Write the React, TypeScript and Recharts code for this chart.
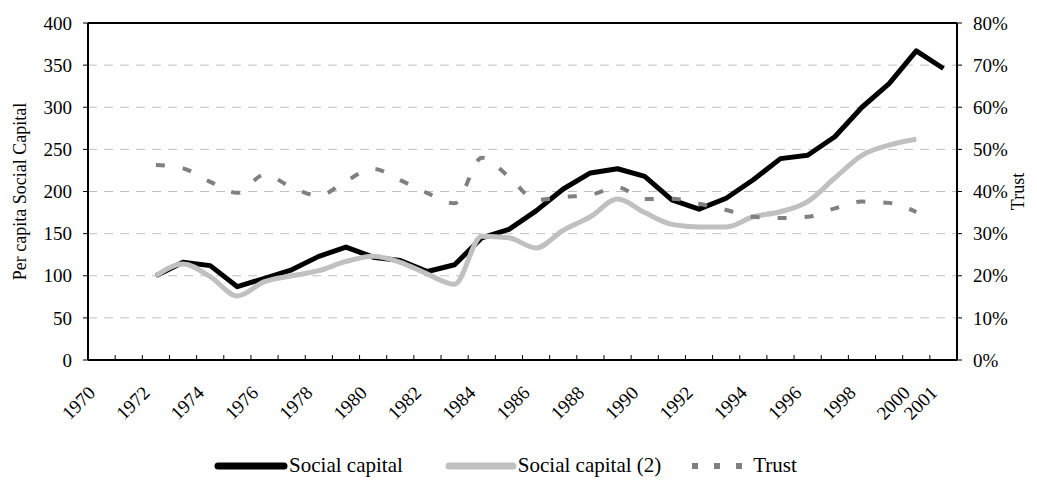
import {
  CartesianGrid,
  Legend,
  Line,
  LineChart,
  ReferenceLine,
  XAxis,
  YAxis,
} from "recharts";

const years = [
  1972, 1973, 1974, 1975, 1976, 1977, 1978, 1979, 1980, 1981, 1982, 1983, 1984,
  1985, 1986, 1987, 1988, 1989, 1990, 1991, 1992, 1993, 1994, 1995, 1996, 1997,
  1998, 1999, 2000, 2001,
];
const socialCapital = [
  100, 116, 112, 87, 97, 107, 123, 134, 122, 118, 105, 113, 145, 155, 177, 203,
  222, 227, 218, 190, 179, 192, 214, 239, 243, 265, 300, 328, 367, 346,
];
const socialCapital2 = [
  100, 114, 99, 76, 93, 100, 106, 117, 123, 116, 102, 90, 147, 145, 133, 154,
  170, 191, 175, 161, 158, 158, 170, 176, 188, 216, 243, 255, 262, null,
];
// percent
const trust = [
  46.3, 45.5, 42.3, 39.7, 44, 41, 39, 42.5, 45.4, 42.7, 39.6, 37.2, 48, 43.5,
  38, 38.7, 39.2, 41, 38.2, 38.3, 37.1, 35.6, 34, 33.7, 34, 36, 37.6, 37.3,
  35.1, null,
];

const categoryYears = [
  1970, 1971, 1972, 1973, 1974, 1975, 1976, 1977, 1978, 1979, 1980, 1981, 1982,
  1983, 1984, 1985, 1986, 1987, 1988, 1989, 1990, 1991, 1992, 1993, 1994, 1995,
  1996, 1997, 1998, 1999, 2000, 2001,
];
const labelYears = [
  1970, 1972, 1974, 1976, 1978, 1980, 1982, 1984, 1986, 1988, 1990, 1992, 1994,
  1996, 1998, 2000, 2001,
];
const leftTicks = [0, 50, 100, 150, 200, 250, 300, 350, 400];
const rightTicks = [0, 10, 20, 30, 40, 50, 60, 70, 80];

const data = years.map((year, i) => ({
  year,
  sc: socialCapital[i],
  sc2: socialCapital2[i],
  trust: trust[i],
}));

const FONT = '"Liberation Serif", "Times New Roman", serif';
const W = 1037;
const H = 482;
const LEFT_W = 88;
const RIGHT_W = 80;
const band = (W - LEFT_W - RIGHT_W) / categoryYears.length;

const YearTick = ({ x, y, payload }: any) => {
  const v = payload?.value;
  const tx = x - band / 2;
  const showLabel = labelYears.includes(v);
  const lx = x - 5;
  const ly = y + 34;
  return (
    <g>
      <line x1={tx} x2={tx} y1={y} y2={y - 5} stroke="#000" strokeWidth={1} />
      {showLabel && (
        <text
          x={lx}
          y={ly}
          textAnchor="end"
          fontFamily={FONT}
          fontSize={19}
          fill="#000"
          transform={`rotate(-45, ${lx}, ${ly})`}
        >
          {v}
        </text>
      )}
    </g>
  );
};

const LegendContent = () => (
  <div
    style={{
      display: "flex",
      justifyContent: "center",
      alignItems: "center",
      fontFamily: FONT,
      fontSize: 21,
      color: "#000",
      paddingRight: 26,
    }}
  >
    <svg width={74} height={14}>
      <line x1={4} x2={70} y1={7} y2={7} stroke="#000" strokeWidth={7} strokeLinecap="round" />
    </svg>
    <span style={{ marginLeft: 1, marginRight: 42 }}>Social capital</span>
    <svg width={72} height={14}>
      <line x1={4} x2={68} y1={7} y2={7} stroke="#c0c0c0" strokeWidth={7} strokeLinecap="round" />
    </svg>
    <span style={{ marginLeft: 1, marginRight: 28 }}>Social capital (2)</span>
    <svg width={56} height={14}>
      <line x1={3} x2={56} y1={7} y2={7} stroke="#808080" strokeWidth={6} strokeDasharray="6 16" />
    </svg>
    <span style={{ marginLeft: 8 }}>Trust</span>
  </div>
);

export default function App() {
  return (
    <div style={{ position: "absolute", left: 0, top: 0, background: "#fff" }}>
      <LineChart
        width={W}
        height={H}
        data={data}
        margin={{ top: 23, right: 0, bottom: 0, left: 0 }}
        style={{ fontFamily: FONT }}
      >
        <CartesianGrid
          yAxisId="left"
          vertical={false}
          stroke="#c0c0c0"
          strokeDasharray="9 7"
        />
        <XAxis
          dataKey="year"
          type="number"
          domain={[1969.5, 2001.5]}
          ticks={categoryYears}
          interval={0}
          tick={<YearTick />}
          tickLine={false}
          tickSize={0}
          tickMargin={0}
          axisLine={{ stroke: "#000", strokeWidth: 2 }}
          height={122}
        />
        <YAxis
          yAxisId="left"
          domain={[0, 400]}
          ticks={leftTicks}
          interval={0}
          width={LEFT_W}
          tickSize={5}
          tickMargin={11}
          tickLine={{ stroke: "#000" }}
          axisLine={{ stroke: "#000", strokeWidth: 2 }}
          tick={{ fill: "#000", fontSize: 19, fontFamily: FONT }}
          label={{
            value: "Per capita Social Capital",
            angle: -90,
            position: "center",
            dx: -24,
            style: { fill: "#000", fontSize: 18, fontFamily: FONT },
          }}
        />
        <YAxis
          yAxisId="right"
          orientation="right"
          domain={[0, 80]}
          ticks={rightTicks}
          interval={0}
          width={RIGHT_W}
          tickSize={5}
          tickMargin={11}
          tickFormatter={(v) => `${v}%`}
          tickLine={{ stroke: "#000" }}
          axisLine={{ stroke: "#000", strokeWidth: 2 }}
          tick={{ fill: "#000", fontSize: 19, fontFamily: FONT }}
          label={{
            value: "Trust",
            angle: -90,
            position: "center",
            dx: 21,
            style: { fill: "#000", fontSize: 18, fontFamily: FONT },
          }}
        />
        <ReferenceLine yAxisId="left" y={400} stroke="#000" strokeWidth={2} />
        <Legend
          layout="horizontal"
          verticalAlign="middle"
          align="center"
          content={<LegendContent />}
          wrapperStyle={{ top: 453, left: 0, width: W, height: 28 }}
        />
        <Line
          yAxisId="left"
          type="linear"
          dataKey="sc"
          name="Social capital"
          stroke="#000"
          strokeWidth={5}
          strokeLinejoin="round"
          dot={false}
          activeDot={false}
          isAnimationActive={false}
        />
        <Line
          yAxisId="left"
          type="monotone"
          dataKey="sc2"
          name="Social capital (2)"
          stroke="#c0c0c0"
          strokeWidth={5}
          dot={false}
          activeDot={false}
          isAnimationActive={false}
        />
        <Line
          yAxisId="right"
          type="monotone"
          dataKey="trust"
          name="Trust"
          stroke="#808080"
          strokeWidth={4}
          strokeDasharray="9 18"
          dot={false}
          activeDot={false}
          isAnimationActive={false}
        />
      </LineChart>
    </div>
  );
}
